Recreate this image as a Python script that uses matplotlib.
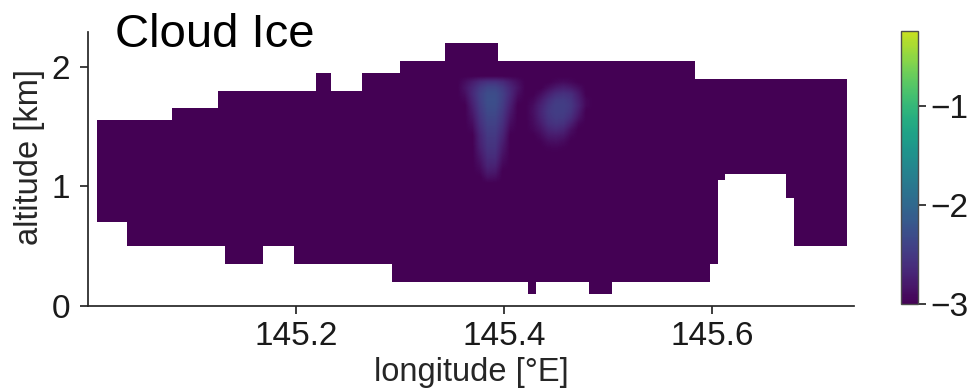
import numpy as np
import matplotlib
matplotlib.use("Agg")
import matplotlib.pyplot as plt
from matplotlib.patches import Polygon

plt.rcParams["font.family"] = ["Liberation Sans", "DejaVu Sans"]

# model grid of the transect
lon_west, lon_east, n_cols = 145.0082, 145.729, 99
alt_bottom, alt_top, alt_step = 0.1, 2.2, 0.05

# valid cloud region: runs of columns with their lowest / highest altitude (km)
col_runs = [4, 6, 6, 1, 5, 4, 3, 2, 4, 4, 1, 6, 7, 4, 1, 7, 3, 11, 2, 1, 1, 8, 1, 7]
run_base = [0.70, 0.50, 0.50, 0.50, 0.35, 0.50, 0.35, 0.35, 0.35, 0.35, 0.20, 0.20,
            0.20, 0.20, 0.10, 0.20, 0.10, 0.20, 0.20, 0.35, 1.05, 1.10, 0.90, 0.50]
run_top = [1.55, 1.55, 1.65, 1.80, 1.80, 1.80, 1.80, 1.95, 1.80, 1.95, 1.95, 2.05,
           2.20, 2.05, 2.05, 2.05, 2.05, 2.05, 1.90, 1.90, 1.90, 1.90, 1.90, 1.90]

# log10 cloud ice, floor value everywhere else
ice_floor = -3.0

# first ice patch: columns 47-56, rows top (1.925 km) to bottom (1.025 km)
ice_a_col, ice_a_row = 47, 18
ice_a = [
    [-3, -3, -3, -3, -3, -3, -3, -3, -3, -3],
    [-3, -2.9, -2.78, -2.65, -2.58, -2.58, -2.65, -2.78, -2.9, -3],
    [-3, -2.85, -2.68, -2.5, -2.38, -2.38, -2.5, -2.68, -2.85, -3],
    [-3, -2.9, -2.66, -2.44, -2.3, -2.3, -2.44, -2.66, -2.9, -3],
    [-3, -2.95, -2.7, -2.45, -2.28, -2.28, -2.45, -2.7, -2.95, -3],
    [-3, -3, -2.75, -2.48, -2.3, -2.3, -2.48, -2.75, -3, -3],
    [-3, -3, -2.8, -2.52, -2.34, -2.34, -2.52, -2.8, -3, -3],
    [-3, -3, -2.85, -2.56, -2.38, -2.38, -2.56, -2.85, -3, -3],
    [-3, -3, -2.9, -2.6, -2.42, -2.42, -2.6, -2.9, -3, -3],
    [-3, -3, -2.95, -2.65, -2.46, -2.46, -2.65, -2.95, -3, -3],
    [-3, -3, -3, -2.7, -2.5, -2.5, -2.7, -3, -3, -3],
    [-3, -3, -3, -2.72, -2.53, -2.53, -2.75, -3, -3, -3],
    [-3, -3, -3, -2.75, -2.56, -2.56, -2.8, -3, -3, -3],
    [-3, -3, -3, -2.8, -2.6, -2.6, -2.85, -3, -3, -3],
    [-3, -3, -3, -2.85, -2.65, -2.65, -2.9, -3, -3, -3],
    [-3, -3, -3, -2.9, -2.7, -2.72, -2.95, -3, -3, -3],
    [-3, -3, -3, -2.95, -2.78, -2.8, -3, -3, -3, -3],
    [-3, -3, -3, -3, -2.88, -2.9, -3, -3, -3, -3],
    [-3, -3, -3, -3, -3, -3, -3, -3, -3, -3],
]

# second ice patch: columns 56-64, rows top (1.925 km) to bottom (1.275 km)
ice_b_col, ice_b_row = 56, 23
ice_b = [
    [-3, -3, -3, -3, -3, -3, -3, -3, -3],
    [-3, -3, -3, -3, -2.95, -2.92, -2.95, -3, -3],
    [-3, -3, -3, -2.9, -2.8, -2.75, -2.8, -2.9, -3],
    [-3, -3, -2.9, -2.75, -2.62, -2.58, -2.62, -2.8, -3],
    [-3, -2.95, -2.8, -2.62, -2.5, -2.48, -2.55, -2.75, -2.95],
    [-3, -2.9, -2.72, -2.55, -2.45, -2.45, -2.52, -2.72, -2.95],
    [-3, -2.88, -2.7, -2.52, -2.45, -2.46, -2.55, -2.78, -3],
    [-3, -2.9, -2.72, -2.55, -2.48, -2.5, -2.62, -2.85, -3],
    [-3, -2.92, -2.78, -2.6, -2.55, -2.58, -2.75, -2.95, -3],
    [-3, -2.95, -2.85, -2.7, -2.65, -2.7, -2.88, -3, -3],
    [-3, -3, -2.92, -2.8, -2.78, -2.82, -2.95, -3, -3],
    [-3, -3, -2.98, -2.9, -2.88, -2.92, -3, -3, -3],
    [-3, -3, -3, -2.97, -2.96, -2.98, -3, -3, -3],
    [-3, -3, -3, -3, -3, -3, -3, -3, -3],
]

cbar_top = -0.24

lon_edges = np.linspace(lon_west, lon_east, n_cols + 1)
n_rows = int(round((alt_top - alt_bottom) / alt_step))

field = np.full((n_rows, n_cols), ice_floor)
for patch, c0, r0 in [(ice_a, ice_a_col, ice_a_row), (ice_b, ice_b_col, ice_b_row)]:
    patch = np.flipud(np.array(patch, dtype=float))
    field[r0:r0 + patch.shape[0], c0:c0 + patch.shape[1]] = patch

# outline of the valid region (each column is one contiguous block)
base = np.repeat(run_base, col_runs)
top = np.repeat(run_top, col_runs)
outline = []
for i in range(n_cols):
    outline += [(lon_edges[i], top[i]), (lon_edges[i + 1], top[i])]
for i in range(n_cols - 1, -1, -1):
    outline += [(lon_edges[i + 1], base[i]), (lon_edges[i], base[i])]

fig = plt.figure(figsize=(9.71, 3.9), dpi=100)
ax = fig.add_axes([0.0906, 0.2162, 0.7889, 0.7018])

im = ax.imshow(field, origin="lower", aspect="auto", interpolation="bilinear",
               extent=(lon_west, lon_east, alt_bottom, alt_top),
               cmap="viridis", vmin=-3, vmax=0)
region = Polygon(outline, closed=True, transform=ax.transData,
                 facecolor="none", edgecolor="none")
ax.add_patch(region)
im.set_clip_path(region)

ax.set_xlim(145.0, 145.736)
ax.set_ylim(0, 2.29)
ax.set_xticks([145.2, 145.4, 145.6])
ax.set_yticks([0, 1, 2])

for side in ["top", "right"]:
    ax.spines[side].set_visible(False)
for side in ["left", "bottom"]:
    ax.spines[side].set_color("0.15")
    ax.spines[side].set_linewidth(1.25)
ax.tick_params(direction="out", length=6, width=1.25, color="0.15",
               labelsize=24, labelcolor="0.1")
ax.tick_params(axis="x", pad=5)
ax.tick_params(axis="y", pad=7)

ax.set_xlabel("longitude [°E]", fontsize=23.5, color="0.15")
ax.set_ylabel("altitude [km]", fontsize=23.5, color="0.15")
ax.xaxis.set_label_coords(0.5, -0.187)
ax.yaxis.set_label_coords(-0.056, 0.545)

fig.text(0.1184, 0.880, "Cloud Ice", fontsize=34, color="black",
         ha="left", va="baseline")

cax = fig.add_axes([0.928, 0.2205, 0.0175, 0.7008])
cb = fig.colorbar(im, cax=cax, boundaries=np.linspace(-3, cbar_top, 257),
                  ticks=[-3, -2, -1])
cb.outline.set_edgecolor("0.3")
cb.outline.set_linewidth(1.0)
cax.tick_params(direction="out", length=6, width=1.25, color="0.15",
                labelsize=24, labelcolor="0.1", pad=3)

fig.savefig("out.png", dpi=100)
